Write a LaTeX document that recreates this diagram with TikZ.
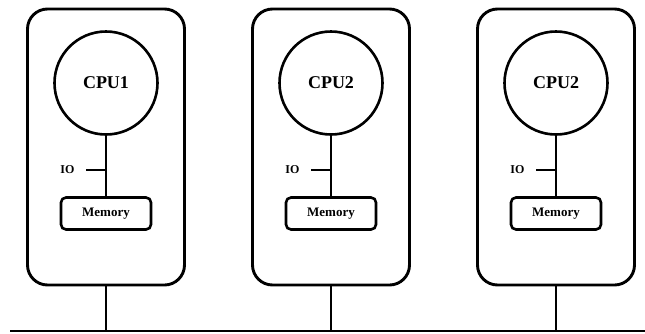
\documentclass[tikz,border=0pt]{standalone}
\usepackage{fontspec}
\setmainfont{Liberation Serif}

\begin{document}
\begin{tikzpicture}[x=1pt,y=-1pt,
  unit/.style={draw, line width=2.9pt, rounded corners=20pt, minimum width=157pt, minimum height=276pt},
  cpu/.style={draw, circle, line width=2.6pt, minimum size=103pt, font=\bfseries\fontsize{18}{20}\selectfont},
  mem/.style={draw, line width=2.6pt, rounded corners=5pt, minimum width=90pt, minimum height=32pt, font=\bfseries\fontsize{13}{15}\selectfont},
  wire/.style={line width=2.9pt}]
\useasboundingbox (0,0) rectangle (645,333);
% first node
\node[unit] (box1) at (106,147) {};
\node[cpu] (cpu1) at (106,83) {CPU1};
\node[mem] (mem1) at (106,213.5) {Memory};
\coordinate (io1) at (86,170);
\node[left, font=\bfseries\fontsize{12}{14}\selectfont] (iol1) at (78,170) {IO};
\draw[wire] (cpu1.south) -- (mem1.north);
\draw[wire] (io1) -- (io1 -| cpu1.south);
% second node
\node[unit] (box2) at (331,147) {};
\node[cpu] (cpu2) at (331,83) {CPU2};
\node[mem] (mem2) at (331,213.5) {Memory};
\coordinate (io2) at (311,170);
\node[left, font=\bfseries\fontsize{12}{14}\selectfont] (iol2) at (303,170) {IO};
\draw[wire] (cpu2.south) -- (mem2.north);
\draw[wire] (io2) -- (io2 -| cpu2.south);
% third node
\node[unit] (box3) at (556,147) {};
\node[cpu] (cpu3) at (556,83) {CPU2};
\node[mem] (mem3) at (556,213.5) {Memory};
\coordinate (io3) at (536,170);
\node[left, font=\bfseries\fontsize{12}{14}\selectfont] (iol3) at (528,170) {IO};
\draw[wire] (cpu3.south) -- (mem3.north);
\draw[wire] (io3) -- (io3 -| cpu3.south);
% bus
\coordinate (busL) at (10,331);
\coordinate (busR) at (645,331);
\draw[wire] (busL) -- (busR);
\draw[wire] (box1.south) -- (box1.south |- busL);
\draw[wire] (box2.south) -- (box2.south |- busL);
\draw[wire] (box3.south) -- (box3.south |- busL);
\end{tikzpicture}
\end{document}
